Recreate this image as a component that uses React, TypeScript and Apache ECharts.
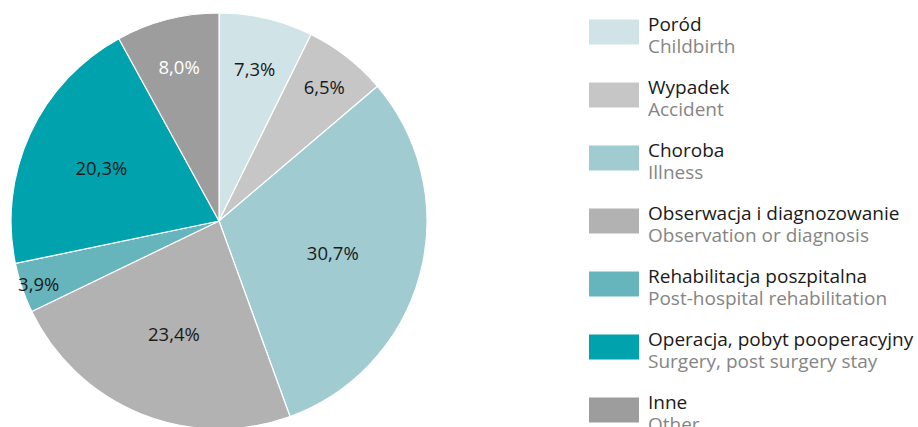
import React, { useEffect, useRef } from "react";
import * as echarts from "echarts";

const namesPl = [
  "Poród",
  "Wypadek",
  "Choroba",
  "Obserwacja i diagnozowanie",
  "Rehabilitacja poszpitalna",
  "Operacja, pobyt pooperacyjny",
  "Inne",
];
const namesEn = [
  "Childbirth",
  "Accident",
  "Illness",
  "Observation or diagnosis",
  "Post-hospital rehabilitation",
  "Surgery, post surgery stay",
  "Other",
];
const shares = [7.3, 6.5, 30.7, 23.4, 3.9, 20.3, 8.0];

const colors = ["#d0e4e8", "#c6c6c6", "#a0cbd0", "#b2b2b2", "#66b5bd", "#00a3ad", "#9d9d9d"];
const labelColors = ["#1a1a1a", "#1a1a1a", "#1a1a1a", "#1a1a1a", "#1a1a1a", "#1a1a1a", "#ffffff"];
const labelRadiusScale = [1.47, 1.6, 1.1, 1.12, 1.78, 1.21, 1.5];

const CX = 219;
const CY = 221;
const R = 208;
const FONT = "'Open Sans', sans-serif";

export default function App() {
  const ref = useRef<HTMLDivElement>(null);
  useEffect(() => {
    document.body.style.margin = "0";
    const chart = echarts.init(ref.current!, null, { renderer: "svg" });
    chart.setOption({
      animation: false,
      textStyle: { fontFamily: FONT },
      legend: {
        orient: "vertical",
        left: 582,
        top: 9.5,
        height: 800,
        itemWidth: 52,
        itemHeight: 27,
        itemGap: 22,
        icon: "rect",
        selectedMode: false,
        data: namesPl,
        formatter: (name: string) => {
          const i = namesPl.indexOf(name);
          return `{a|${name}}\n{b|${namesEn[i]}}`;
        },
        textStyle: {
          padding: [6, 0, 0, 3],
          rich: {
            a: { fontFamily: FONT, fontSize: 19, color: "#1a1a1a", lineHeight: 22 },
            b: { fontFamily: FONT, fontSize: 19, color: "#858585", lineHeight: 22 },
          },
        },
      },
      series: [
        {
          type: "pie",
          center: [CX, CY],
          radius: [0, R],
          startAngle: 90,
          clockwise: true,
          avoidLabelOverlap: false,
          itemStyle: { borderColor: "#ffffff", borderWidth: 1.2 },
          emphasis: { disabled: true },
          label: {
            show: true,
            position: "inside",
            fontFamily: FONT,
            fontSize: 18.5,
            formatter: (p: any) => p.value.toFixed(1).replace(".", ",") + "%",
          },
          labelLine: { show: false },
          labelLayout: (p: any) => {
            const k = labelRadiusScale[p.dataIndex];
            const lx = p.labelRect.x + p.labelRect.width / 2;
            const ly = p.labelRect.y + p.labelRect.height / 2;
            return {
              x: CX + (lx - CX) * k,
              y: CY + (ly - CY) * k + 1,
              align: "center",
              verticalAlign: "middle",
            };
          },
          data: shares.map((v, i) => ({
            name: namesPl[i],
            value: v,
            itemStyle: { color: colors[i] },
            label: { color: labelColors[i] },
          })),
        },
      ],
    });
    return () => chart.dispose();
  }, []);
  return <div ref={ref} style={{ width: 918, height: 427, position: "absolute", left: 0, top: 0 }} />;
}
